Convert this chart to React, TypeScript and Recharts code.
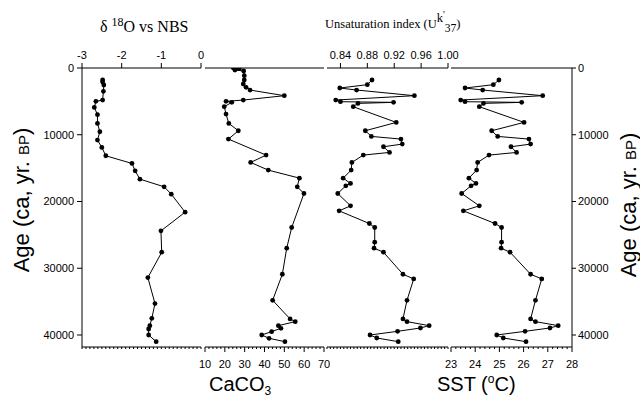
import React from 'react';
import { ScatterChart, Scatter, XAxis, YAxis } from 'recharts';

// age axis shared by all four panels (years BP, 0 on top)
const ageTicks = [0, 10000, 20000, 30000, 40000];
const ageDomain = [0, 41800];

// delta 18O vs NBS
const d18oAges = [1800, 2100, 2550, 3500, 4800, 5000, 5900, 7000, 8300, 9550, 10800, 11900, 13150, 14300, 15400, 16650, 17800, 18900, 21600, 24400, 27600, 31400, 35300, 37500, 38600, 39100, 40000, 41000];
const d18oValues = [-2.48, -2.48, -2.45, -2.46, -2.48, -2.65, -2.69, -2.61, -2.61, -2.55, -2.61, -2.5, -2.4, -1.74, -1.66, -1.54, -0.93, -0.75, -0.4, -1.01, -0.99, -1.34, -1.16, -1.24, -1.29, -1.32, -1.32, -1.13];
const d18oTicks = [-3, -2, -1, 0];

// CaCO3
const caAges = [0, 50, 100, 300, 450, 1150, 1800, 2400, 2900, 3300, 4150, 4800, 5000, 5150, 5800, 6900, 8300, 9400, 10650, 13050, 14150, 15300, 16500, 17800, 18800, 23900, 27000, 30900, 34800, 37600, 38000, 38600, 39000, 39500, 40000, 40500, 41000];
const caValues = [24.3, 26.0, 27.3, 25.1, 29.5, 29.8, 29.8, 29.3, 30.7, 32.7, 50.0, 29.3, 20.6, 23.5, 19.7, 20.6, 22.0, 26.8, 21.8, 40.8, 33.0, 41.9, 57.6, 56.5, 59.9, 53.7, 51.2, 49.0, 44.1, 52.9, 55.5, 47.0, 48.3, 43.6, 38.6, 42.3, 50.3];
const caTicks = [10, 20, 30, 40, 50, 60, 70];

// Uk'37 and SST share the same samples
const ukAges = [1800, 2500, 3000, 3300, 4150, 4800, 5050, 5150, 5300, 5800, 8150, 9400, 10250, 10650, 11400, 11800, 12650, 13050, 14150, 15300, 16500, 17300, 17650, 18800, 20650, 21400, 23300, 23900, 26100, 27000, 27600, 30900, 31600, 34800, 37600, 38000, 38600, 38950, 39450, 40000, 40450, 41000];
const ukValues = [0.887, 0.88, 0.839, 0.864, 0.95, 0.833, 0.84, 0.919, 0.866, 0.859, 0.923, 0.877, 0.886, 0.93, 0.932, 0.904, 0.913, 0.874, 0.857, 0.856, 0.844, 0.855, 0.848, 0.836, 0.855, 0.838, 0.883, 0.891, 0.891, 0.89, 0.904, 0.933, 0.949, 0.939, 0.933, 0.939, 0.972, 0.959, 0.925, 0.884, 0.894, 0.926];
const ukTicks = [0.84, 0.88, 0.92, 0.96, 1.0];
const sstValues = [24.98, 24.75, 23.58, 24.31, 26.79, 23.4, 23.58, 25.92, 24.34, 24.17, 26.02, 24.68, 24.93, 26.22, 26.29, 25.48, 25.71, 24.57, 24.1, 24.06, 23.74, 24.03, 23.83, 23.44, 24.17, 23.51, 24.82, 25.09, 25.09, 25.07, 25.44, 26.29, 26.75, 26.49, 26.29, 26.49, 27.43, 27.09, 26.06, 24.89, 25.16, 26.1];
const sstTicks = [23, 24, 25, 26, 27, 28];

const SANS = '"Liberation Sans", Arial, sans-serif';
const SERIF = '"Liberation Serif", "Times New Roman", serif';
const H = 398;
const PLOT_TOP = 68;
const PLOT_BOTTOM = 347;
const PAD = 14; // room for edge tick labels

const zip = (ages: number[], vals: number[]) => ages.map((age, i) => ({ age, v: vals[i] }));

// evenly spaced minor tick positions
const steps = (from: number, to: number, step: number) => {
  const n = Math.round((to - from) / step);
  return Array.from({ length: n + 1 }, (_, i) => +(from + i * step).toFixed(4));
};

const makeTick = (side: 'top' | 'bottom', majors: number[], fmt: (v: number) => string) => (props: any) => {
  const { x, y, payload } = props;
  const v = payload.value;
  const major = majors.some((m) => Math.abs(m - v) < 1e-6);
  const dir = side === 'top' ? -1 : 1;
  const len = major ? 5 : 2;
  return (
    <g>
      <line x1={x} y1={y} x2={x} y2={y + dir * len} stroke="#000" strokeWidth={1} />
      {major && (
        <text x={x} y={side === 'top' ? y - 9 : y + 21} textAnchor="middle" fontSize={11} fontFamily={SANS} fill="#000">
          {fmt(v)}
        </text>
      )}
    </g>
  );
};

const Dot = (p: any) => <circle cx={p.cx} cy={p.cy} r={2.4} fill="#000" />;

interface PanelProps {
  x0: number;
  x1: number;
  data: { age: number; v: number }[];
  domain: [number, number];
  top?: { ticks: number[]; majors: number[]; fmt: (v: number) => string };
  bottom?: { ticks: number[]; majors: number[]; fmt: (v: number) => string };
  leftAxis?: boolean;
  rightAxis?: boolean;
}

const Panel: React.FC<PanelProps> = ({ x0, x1, data, domain, top, bottom, leftAxis, rightAxis }) => {
  const lw = leftAxis ? x0 : 0;
  const rw = rightAxis ? 640 - x1 : 0;
  const padL = leftAxis ? 0 : PAD;
  const padR = rightAxis ? 0 : PAD;
  const width = x1 - x0 + lw + rw + padL + padR;
  return (
    <div style={{ position: 'absolute', left: x0 - lw - padL, top: 0 }}>
      <ScatterChart width={width} height={H} margin={{ top: 0, right: padR, bottom: 0, left: padL }}>
        <XAxis
          xAxisId="top"
          orientation="top"
          type="number"
          dataKey="v"
          domain={domain}
          allowDataOverflow
          height={PLOT_TOP}
          ticks={top ? top.ticks : domain}
          interval={0}
          tickSize={0}
          tickMargin={0}
          tickLine={false}
          tick={top ? makeTick('top', top.majors, top.fmt) : false}
          axisLine={{ stroke: '#000' }}
        />
        <XAxis
          xAxisId="bottom"
          orientation="bottom"
          type="number"
          dataKey="v"
          domain={domain}
          allowDataOverflow
          height={H - PLOT_BOTTOM}
          ticks={bottom ? bottom.ticks : domain}
          interval={0}
          tickSize={0}
          tickMargin={0}
          tickLine={false}
          tick={bottom ? makeTick('bottom', bottom.majors, bottom.fmt) : false}
          axisLine={{ stroke: '#000' }}
        />
        <YAxis
          yAxisId="age"
          type="number"
          dataKey="age"
          domain={ageDomain}
          reversed
          allowDataOverflow
          ticks={ageTicks}
          interval={0}
          hide={!leftAxis && !rightAxis}
          orientation={rightAxis ? 'right' : 'left'}
          width={leftAxis ? lw : rightAxis ? rw : 0}
          tickSize={rightAxis ? 4 : 5}
          tickMargin={rightAxis ? 2 : 3}
          tick={{ fontSize: 11, fontFamily: SANS, fill: '#000' }}
          tickLine={{ stroke: '#000' }}
          axisLine={{ stroke: '#000' }}
        />
        <Scatter
          xAxisId="top"
          yAxisId="age"
          data={data}
          fill="#000"
          line={{ stroke: '#000', strokeWidth: 1 }}
          shape={Dot}
          isAnimationActive={false}
        />
      </ScatterChart>
    </div>
  );
};

const intFmt = (v: number) => String(v);

export default function App() {
  return (
    <div style={{ position: 'absolute', left: 0, top: 0, width: 640, height: H, background: '#fff', overflow: 'hidden' }}>
      <Panel
        x0={82}
        x1={201}
        data={zip(d18oAges, d18oValues)}
        domain={[-3, 0]}
        top={{ ticks: d18oTicks, majors: d18oTicks, fmt: intFmt }}
        bottom={{ ticks: steps(-3, 0, 0.1), majors: [], fmt: intFmt }}
        leftAxis
      />
      <Panel
        x0={205}
        x1={324}
        data={zip(caAges, caValues)}
        domain={[10, 70]}
        bottom={{ ticks: steps(10, 70, 2), majors: caTicks, fmt: intFmt }}
      />
      <Panel
        x0={327}
        x1={448}
        data={zip(ukAges, ukValues)}
        domain={[0.82, 1.0]}
        top={{ ticks: ukTicks, majors: ukTicks, fmt: (v) => v.toFixed(2) }}
        bottom={{ ticks: steps(0.82, 1.0, 0.005), majors: [], fmt: intFmt }}
      />
      <Panel
        x0={451}
        x1={572}
        data={zip(ukAges, sstValues)}
        domain={[23, 28]}
        bottom={{ ticks: steps(23, 28, 0.2), majors: sstTicks, fmt: intFmt }}
        rightAxis
      />
      <svg width={640} height={H} style={{ position: 'absolute', left: 0, top: 0, pointerEvents: 'none' }}>
        <text x={100} y={32} fontFamily={SERIF} fontSize={16} fill="#000">
          δ <tspan fontSize={12} dy={-6}>18</tspan>
          <tspan dy={6}>O vs NBS</tspan>
        </text>
        <text x={325} y={28} fontFamily={SERIF} fontSize={12.5} fill="#000">
          Unsaturation index (U<tspan fontSize={12.5} dy={-6}>k</tspan>
          <tspan fontSize={10} dy={-4}>'</tspan>
          <tspan fontSize={11.5} dy={14}>37</tspan>
          <tspan dy={-4}>)</tspan>
        </text>
        <text x={209} y={391} fontFamily={SANS} fontSize={20} fill="#000">
          CaCO<tspan fontSize={12} dy={4}>3</tspan>
        </text>
        <text x={437} y={391} fontFamily={SANS} fontSize={20} fill="#000">
          SST (<tspan fontSize={12} dy={-8}>o</tspan>
          <tspan dy={8}>C)</tspan>
        </text>
        <text transform="translate(29,200) rotate(-90)" textAnchor="middle" fontFamily={SANS} fontSize={22} fill="#000">
          Age (ca, yr. <tspan fontSize={15}>BP</tspan>)
        </text>
        <text transform="translate(636,205) rotate(-90)" textAnchor="middle" fontFamily={SANS} fontSize={22} fill="#000">
          Age (ca, yr. <tspan fontSize={15}>BP</tspan>)
        </text>
      </svg>
    </div>
  );
}
